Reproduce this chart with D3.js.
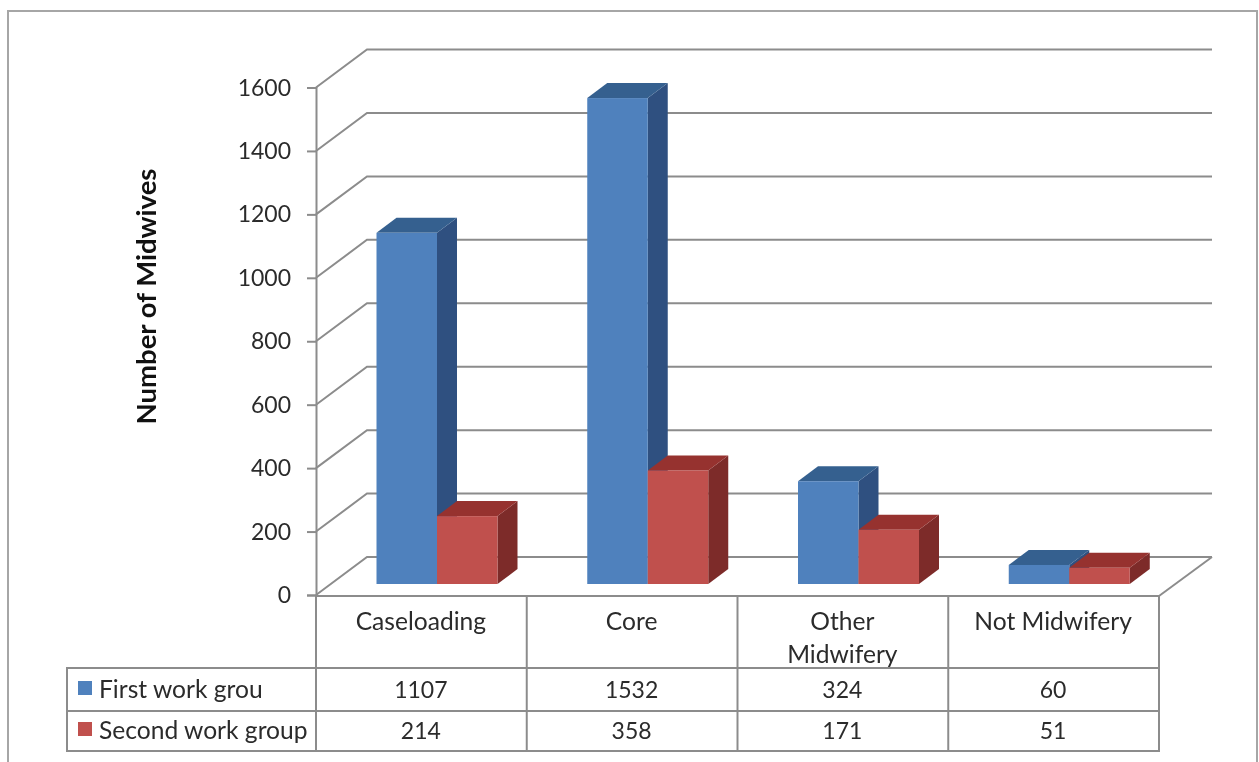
<!DOCTYPE html>
<html><head><meta charset="utf-8">
<script src="https://cdn.jsdelivr.net/npm/d3@7"></script>
<style>html,body{margin:0;padding:0;background:#fff}svg{display:block;filter:blur(0.45px)}text{font-family:Lato,"Open Sans",sans-serif;fill:#2b2b2b}</style>
</head><body><div id="c"></div>
<script>
const categories=["Caseloading","Core","Other Midwifery","Not Midwifery"];
const seriesNames=["First work grou","Second work group"];
const firstGroup=[1107,1532,324,60];
const secondGroup=[214,358,171,51];
const yTicks=[0,200,400,600,800,1000,1200,1400,1600];
const colors=["#4f81bd","#c0504d"], tops=["#35608f","#96322f"], sides=["#2f5080","#7d2b29"];
const W=1259,H=762, line="#8c8c8c";
const svg=d3.select("#c").append("svg").attr("width",W).attr("height",H);
const y=d3.scaleLinear().domain([0,1600]).range([595,87.5]);
const xCat=d3.scaleBand().domain(categories).range([316,1159]);
const xSer=d3.scaleBand().domain([0,1]).range([60.5,181.5]);
const depth={x:51,y:-38}, barDepth={x:20,y:-15}, barDrop=-11;

// outer frame
svg.append("path").attr("d",`M8,${H}V11H1257V${H}`).attr("fill","none").attr("stroke","#a6a6a6").attr("stroke-width",2);

// walls
const g=svg.append("g").attr("fill","none").attr("stroke",line).attr("stroke-width",2);
yTicks.forEach(t=>{
  g.append("path").attr("d",`M316,${y(t)}L${316+depth.x},${y(t)+depth.y}H1212`);
});
g.append("path").attr("d",`M1212,${y(0)+depth.y}L1159,${y(0)+1}`);

// y axis
const ax=svg.append("g").attr("transform","translate(316,0)").call(d3.axisLeft(y).tickValues(yTicks).tickSize(9).tickPadding(16).tickFormat(d3.format("d")));
ax.selectAll("path,line").attr("stroke",line).attr("stroke-width",2);
ax.selectAll("text").attr("font-size",23).attr("dy","0.33em").style("font-family","Lato");
svg.append("text").attr("transform","translate(156,296.5) rotate(-90)").attr("text-anchor","middle").attr("font-size",27.5).attr("font-weight",700).style("fill","#111").text("Number of Midwives");

// bars
function bar(c,i,v){
  const x0=xCat(c)+xSer(i), w=xSer.bandwidth(), yb=y(0)+barDrop, yt=y(v)+barDrop, dx=barDepth.x, dy=barDepth.y;
  const b=svg.append("g");
  b.append("path").attr("fill",sides[i]).attr("d",`M${x0+w},${yt}l${dx},${dy}V${yb+dy}l${-dx},${-dy}Z`);
  b.append("path").attr("fill",tops[i]).attr("d",`M${x0},${yt}l${dx},${dy}h${w}l${-dx},${-dy}Z`);
  b.append("rect").attr("x",x0).attr("y",yt).attr("width",w).attr("height",yb-yt).attr("fill",colors[i]);
}
categories.forEach((c,k)=>{bar(c,0,firstGroup[k]);bar(c,1,secondGroup[k]);});

// data table
const t=svg.append("g").attr("fill","none").attr("stroke",line).attr("stroke-width",2);
const rows=[596,668,711,751];
t.append("path").attr("d",`M316,${rows[0]}H1159V${rows[3]}H67V${rows[1]}H1159M67,${rows[2]}H1159`);
xCat.domain().forEach(c=>t.append("path").attr("d",`M${xCat(c)},${rows[0]}V${rows[3]}`));
const fs=24.6, numFs=23;
categories.forEach((c,k)=>{
  const cx=xCat(c)+xCat.bandwidth()/2-0.5;
  const parts=c==="Other Midwifery"?["Other","Midwifery"]:[c];
  parts.forEach((p,j)=>svg.append("text").attr("x",cx).attr("y",630+j*33).attr("text-anchor","middle").attr("font-size",fs).text(p));
  svg.append("text").attr("x",cx).attr("y",698).attr("text-anchor","middle").attr("font-size",numFs).text(firstGroup[k]);
  svg.append("text").attr("x",cx).attr("y",739).attr("text-anchor","middle").attr("font-size",numFs).text(secondGroup[k]);
});
seriesNames.forEach((s,i)=>{
  const yy=[698,739][i];
  svg.append("rect").attr("x",78).attr("y",yy-17).attr("width",14).attr("height",14).attr("fill",colors[i]);
  svg.append("text").attr("x",99).attr("y",yy).attr("font-size",fs).text(s);
});
</script></body></html>
